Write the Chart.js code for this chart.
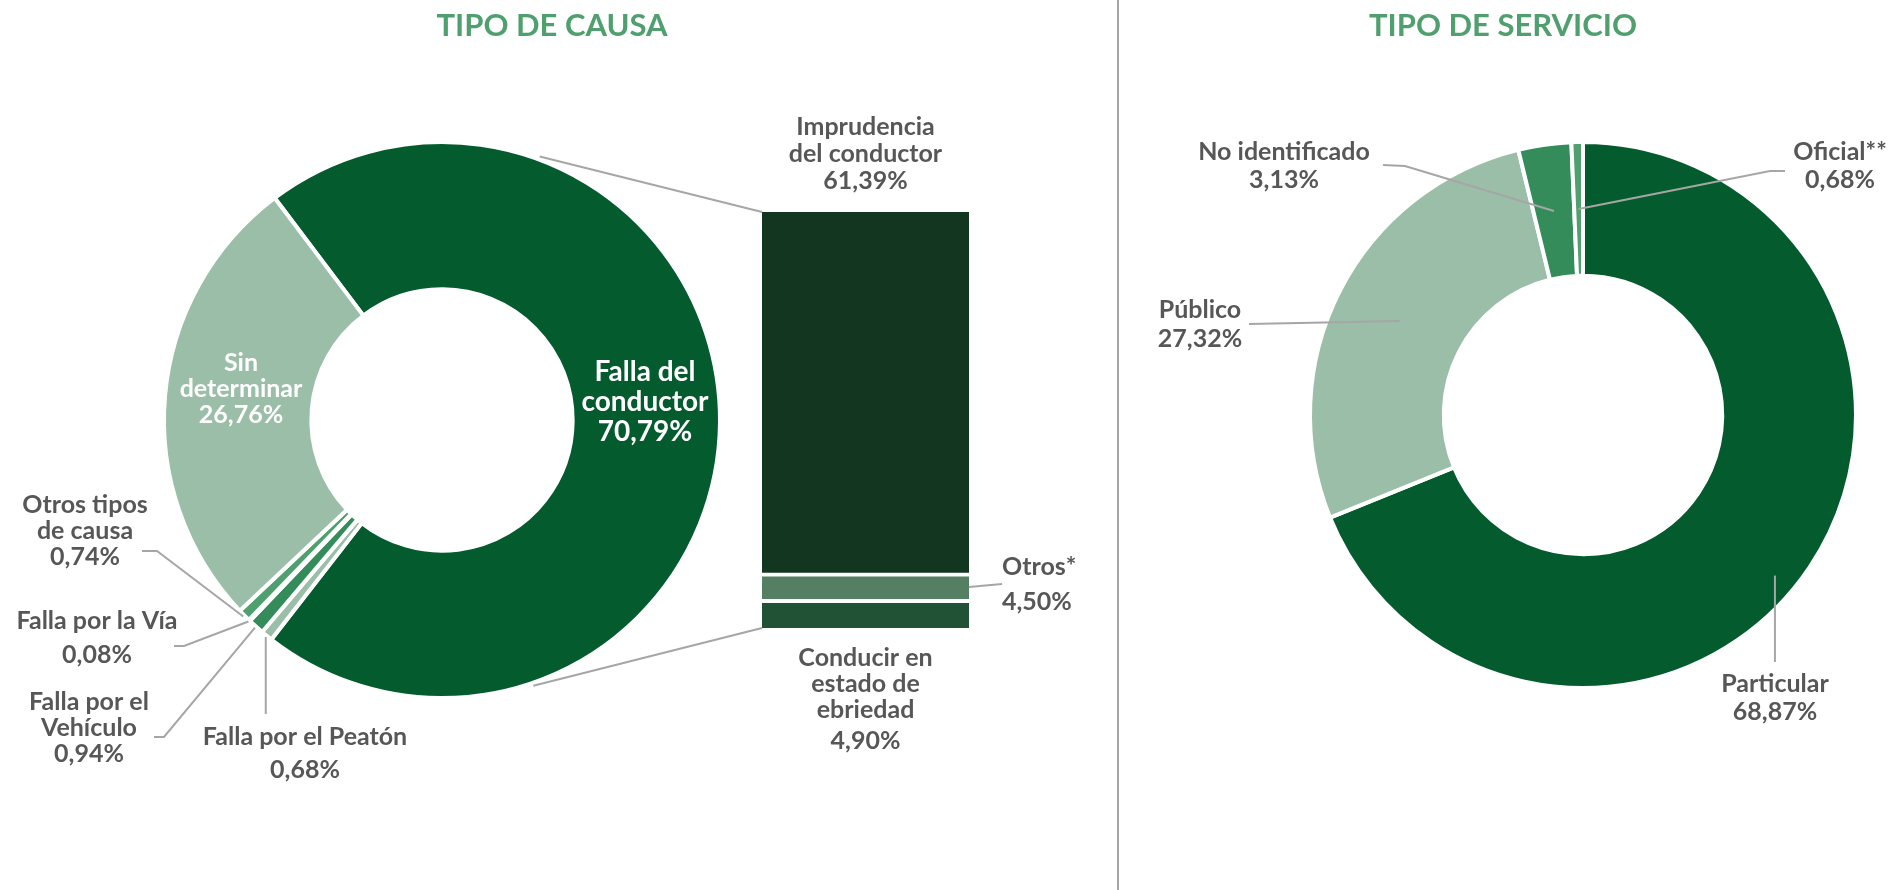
<!DOCTYPE html>
<html lang="es">
<head>
<meta charset="utf-8">
<title>Tipo de causa y tipo de servicio</title>
<script src="https://cdn.jsdelivr.net/npm/chart.js@4.4.1/dist/chart.umd.min.js"></script>
<style>
  html, body { margin: 0; padding: 0; background: #fff; }
  #pagina { position: relative; width: 1892px; height: 890px; overflow: hidden; }
  #pagina canvas { position: absolute; left: 0; top: 0; }
  #divisor { position: absolute; left: 1117px; top: 0; width: 2px; height: 890px; background: #A6A6A6; }
</style>
</head>
<body>
<div id="pagina">
  <div id="divisor"></div>
  <canvas id="causa" width="1892" height="890"></canvas>
  <canvas id="detalle" width="1892" height="890"></canvas>
  <canvas id="servicio" width="1892" height="890"></canvas>
</div>
<script>
// Tipo de causa (dona de la izquierda)
const causaLabels = ['Falla del conductor', 'Falla por el Peatón', 'Falla por el Vehículo',
  'Falla por la Vía', 'Otros tipos de causa', 'Sin determinar'];
const causaValues = [70.79, 0.68, 0.94, 0.08, 0.74, 26.76];

// Desglose de falla del conductor (barra apilada, de abajo hacia arriba)
const detalleLabels = ['Conducir en estado de ebriedad', 'Otros*', 'Imprudencia del conductor'];
const detalleValues = [4.90, 4.50, 61.39];

// Tipo de servicio (dona de la derecha)
const servicioLabels = ['Particular', 'Público', 'No identificado', 'Oficial**'];
const servicioValues = [68.87, 27.32, 3.13, 0.68];

// colores
const causaColors = ['#045C2E', '#9BBEA8', '#348C5A', '#348C5A', '#4FA06E', '#9BBEA8'];
const detalleColors = ['#215236', '#547F63', '#12361F'];
const servicioColors = ['#045C2E', '#9BBEA8', '#348C5A', '#4FA06E'];

const GRIS = '#575757';
const LINEA = '#A6A6A6';
const FUENTE = 'Lato, "Open Sans", sans-serif';

function pct(v) {
  return v.toFixed(2).replace('.', ',') + '%';
}

// punto sobre un arco: t = posicion a lo largo del arco, f = 0 radio interno, 1 radio externo
function puntoArco(arc, t, f) {
  const p = arc.getProps(['x', 'y', 'startAngle', 'endAngle', 'innerRadius', 'outerRadius'], true);
  const a = p.startAngle + (p.endAngle - p.startAngle) * t;
  const r = p.innerRadius + (p.outerRadius - p.innerRadius) * f;
  return {x: p.x + Math.cos(a) * r, y: p.y + Math.sin(a) * r};
}

function texto(ctx, lineas, x, y, lh, opts) {
  opts = opts || {};
  ctx.save();
  ctx.fillStyle = opts.color || GRIS;
  ctx.font = 'bold ' + (opts.size || 25) + 'px ' + FUENTE;
  ctx.textAlign = opts.align || 'center';
  ctx.textBaseline = 'alphabetic';
  lineas.forEach((l, i) => ctx.fillText(l, x, y + i * lh));
  ctx.restore();
}

function linea(ctx, puntos) {
  ctx.save();
  ctx.strokeStyle = LINEA;
  ctx.lineWidth = 2;
  ctx.beginPath();
  puntos.forEach((p, i) => i ? ctx.lineTo(p.x, p.y) : ctx.moveTo(p.x, p.y));
  ctx.stroke();
  ctx.restore();
}

function titulo(ctx, t, x) {
  ctx.save();
  ctx.fillStyle = '#4FA06E';
  ctx.font = 'bold 31px ' + FUENTE;
  ctx.textAlign = 'center';
  ctx.fillText(t, x, 36);
  ctx.restore();
}

const etiquetasCausa = {
  id: 'etiquetasCausa',
  afterDraw(chart) {
    const ctx = chart.ctx;
    const arcs = chart.getDatasetMeta(0).data;
    titulo(ctx, 'TIPO DE CAUSA', 552);

    // etiquetas dentro de la dona
    texto(ctx, ['Falla del', 'conductor', pct(causaValues[0])], 645, 381, 30, {color: '#fff', size: 28});
    texto(ctx, ['Sin', 'determinar', pct(causaValues[5])], 241, 371, 26, {color: '#fff', size: 25});

    // peaton
    let a = puntoArco(arcs[1], 0.5, 1.01);
    linea(ctx, [a, {x: a.x, y: 714}]);
    texto(ctx, ['Falla por el Peatón', pct(causaValues[1])], 305, 745, 33);
    // vehiculo
    a = puntoArco(arcs[2], 0.5, 1.01);
    linea(ctx, [a, {x: 164, y: 737}, {x: 154, y: 737}]);
    texto(ctx, ['Falla por el', 'Vehículo', pct(causaValues[2])], 89, 710, 26);
    // via
    a = puntoArco(arcs[3], 0.5, 1.01);
    linea(ctx, [a, {x: 184, y: 646}, {x: 174, y: 646}]);
    texto(ctx, ['Falla por la Vía', pct(causaValues[3])], 97, 629, 34);
    // otros tipos
    a = puntoArco(arcs[4], 0.5, 1.01);
    linea(ctx, [a, {x: 157, y: 551}, {x: 142, y: 551}]);
    texto(ctx, ['Otros tipos', 'de causa', pct(causaValues[4])], 85, 513, 26);
  }
};

const etiquetasDetalle = {
  id: 'etiquetasDetalle',
  afterDraw(chart) {
    const ctx = chart.ctx;
    const metaInf = chart.getDatasetMeta(0).data[0];
    const metaMed = chart.getDatasetMeta(1).data[0];
    const metaSup = chart.getDatasetMeta(2).data[0];
    const izq = metaSup.x - metaSup.width / 2;
    const der = metaSup.x + metaSup.width / 2;

    // lineas de union con la dona
    const arco = graficoCausa.getDatasetMeta(0).data[0];
    linea(ctx, [puntoArco(arco, 0.225, 1.02), {x: izq, y: metaSup.y}]);
    linea(ctx, [puntoArco(arco, 0.777, 1.02), {x: izq, y: metaInf.base}]);

    texto(ctx, ['Imprudencia', 'del conductor', pct(detalleValues[2])], metaSup.x, 135, 27);
    linea(ctx, [{x: der, y: (metaMed.y + metaMed.base) / 2 + 1}, {x: 1002, y: 584}]);
    texto(ctx, ['Otros*', pct(detalleValues[1])], 1002, 575, 35, {align: 'left'});
    texto(ctx, ['Conducir en', 'estado de', 'ebriedad'], metaSup.x, 666, 26);
    texto(ctx, [pct(detalleValues[0])], metaSup.x, 749, 0);
  }
};

const etiquetasServicio = {
  id: 'etiquetasServicio',
  afterDraw(chart) {
    const ctx = chart.ctx;
    const arcs = chart.getDatasetMeta(0).data;
    titulo(ctx, 'TIPO DE SERVICIO', 1503);

    let a = puntoArco(arcs[0], 0.524, 0.83);
    linea(ctx, [a, {x: a.x, y: 662}]);
    texto(ctx, ['Particular', pct(servicioValues[0])], 1775, 692, 28);

    a = puntoArco(arcs[1], 0.5, 0.5);
    linea(ctx, [a, {x: 1249, y: 324}]);
    texto(ctx, ['Público', pct(servicioValues[1])], 1200, 318, 29);

    a = puntoArco(arcs[2], 0.5, 0.5);
    linea(ctx, [a, {x: 1405, y: 166}, {x: 1383, y: 165}]);
    texto(ctx, ['No identificado', pct(servicioValues[2])], 1284, 160, 28);

    a = puntoArco(arcs[3], 0.5, 0.5);
    linea(ctx, [a, {x: 1770, y: 171}, {x: 1785, y: 171}]);
    texto(ctx, ['Oficial**', pct(servicioValues[3])], 1840, 160, 28);
  }
};

const base = {
  responsive: false,
  animation: false,
  events: [],
  plugins: {legend: {display: false}, tooltip: {enabled: false}}
};

const graficoCausa = new Chart(document.getElementById('causa'), {
  type: 'doughnut',
  data: {
    labels: causaLabels,
    datasets: [{
      data: causaValues,
      backgroundColor: causaColors,
      borderColor: '#fff',
      borderWidth: 4
    }]
  },
  options: Object.assign({}, base, {
    rotation: -37,
    radius: 278,
    cutout: '47%',
    layout: {padding: {left: 164, top: 142, right: 1172, bottom: 192}}
  }),
  plugins: [etiquetasCausa]
});

new Chart(document.getElementById('detalle'), {
  type: 'bar',
  data: {
    labels: ['Falla del conductor'],
    datasets: detalleLabels.map((l, i) => ({
      label: l,
      data: [detalleValues[i]],
      backgroundColor: detalleColors[i],
      borderColor: '#fff',
      borderWidth: i < 2 ? {top: 4, right: 0, bottom: 0, left: 0} : 0,
      borderSkipped: false,
      barPercentage: 1,
      categoryPercentage: 1
    }))
  },
  options: Object.assign({}, base, {
    layout: {padding: {left: 762, top: 212, right: 923, bottom: 262}},
    scales: {
      x: {display: false, stacked: true},
      y: {display: false, stacked: true, min: 0, max: detalleValues.reduce((s, v) => s + v, 0)}
    }
  }),
  plugins: [etiquetasDetalle]
});

new Chart(document.getElementById('servicio'), {
  type: 'doughnut',
  data: {
    labels: servicioLabels,
    datasets: [{
      data: servicioValues,
      backgroundColor: servicioColors,
      borderColor: '#fff',
      borderWidth: 4
    }]
  },
  options: Object.assign({}, base, {
    rotation: 0,
    radius: 273,
    cutout: '51%',
    layout: {padding: {left: 1310, top: 142, right: 36, bottom: 202}}
  }),
  plugins: [etiquetasServicio]
});
</script>
</body>
</html>
